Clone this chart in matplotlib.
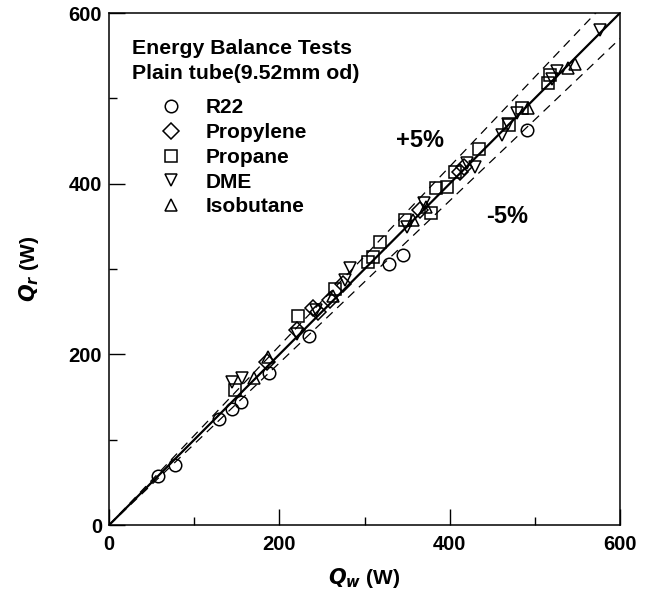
import numpy as np
import matplotlib.pyplot as plt

plt.rcParams['font.family'] = ['Liberation Sans', 'DejaVu Sans']
plt.rcParams['font.weight'] = 'bold'

# measured data (Qw, Qr) in W
r22_w = [58, 78, 129, 144, 155, 188, 235, 329, 345, 491]
r22_r = [58, 71, 124, 136, 144, 178, 222, 306, 317, 463]

propylene_w = [185, 221, 239, 245, 259, 275, 365, 412, 417]
propylene_r = [191, 229, 254, 250, 264, 282, 369, 414, 420]

propane_w = [148, 222, 265, 304, 310, 318, 347, 378, 384, 397, 406, 435, 470, 485, 516, 518]
propane_r = [158, 245, 277, 308, 314, 332, 357, 366, 395, 396, 414, 441, 469, 489, 518, 527]

dme_w = [144, 156, 221, 243, 277, 283, 350, 370, 420, 430, 462, 468, 479, 520, 526, 577]
dme_r = [168, 172, 224, 252, 287, 301, 349, 377, 424, 420, 457, 470, 483, 523, 532, 580]

isobutane_w = [170, 187, 263, 357, 372, 492, 539, 547]
isobutane_r = [172, 197, 268, 357, 373, 489, 536, 540]

series = [
    ('R22', r22_w, r22_r, 'o'),
    ('Propylene', propylene_w, propylene_r, 'D'),
    ('Propane', propane_w, propane_r, 's'),
    ('DME', dme_w, dme_r, 'v'),
    ('Isobutane', isobutane_w, isobutane_r, '^'),
]

fig = plt.figure(figsize=(6.54, 6.05), dpi=100)
ax = fig.add_axes([0.1667, 0.132, 0.7813, 0.8465])

# 1:1 line and +/-5% bands
line = np.array([0, 600])
ax.plot(line, line, color='black', lw=1.6, zorder=2)
ax.plot(line, 1.05 * line, color='black', lw=0.9, ls=(0, (7, 5)), zorder=2)
ax.plot(line, 0.95 * line, color='black', lw=0.9, ls=(0, (7, 5)), zorder=2)

for name, xs, ys, m in series:
    ms = 8 if m == 'D' else 9
    ax.plot(xs, ys, ls='none', marker=m, ms=ms, mfc='none', mec='black',
            mew=1.1, label=name, zorder=3)

ax.set_xlim(0, 600)
ax.set_ylim(0, 600)
ax.set_xticks([0, 200, 400, 600])
ax.set_yticks([0, 200, 400, 600])
ax.set_xticks([100, 300, 500], minor=True)
ax.set_yticks([100, 300, 500], minor=True)
ax.tick_params(which='both', direction='in', labelsize=14.5, width=1.0)
ax.tick_params(which='major', length=11.5)
ax.tick_params(axis='x', which='major', pad=7)
ax.tick_params(axis='y', which='major', pad=5)
ax.tick_params(which='minor', length=5.8)
for s in ax.spines.values():
    s.set_linewidth(1.1)

ax.set_xlabel(r'$\boldsymbol{Q_w}$ (W)', fontsize=15, fontweight='bold', labelpad=9)
ax.set_ylabel(r'$\boldsymbol{Q_r}$ (W)', fontsize=15, fontweight='bold', labelpad=20)

ax.text(0.045, 0.949, 'Energy Balance Tests\nPlain tube(9.52mm od)',
        transform=ax.transAxes, fontsize=15.3, fontweight='bold',
        va='top', ha='left', linespacing=1.42)

ax.legend(loc='upper left', bbox_to_anchor=(0.08, 0.85), frameon=False,
          fontsize=15, handletextpad=1.08, labelspacing=0.28, borderaxespad=0,
          handlelength=1.2)

ax.text(365, 451, '+5%', fontsize=17, fontweight='bold', ha='center', va='center')
ax.text(468, 362, '-5%', fontsize=17, fontweight='bold', ha='center', va='center')

fig.savefig('out.png', dpi=100)
